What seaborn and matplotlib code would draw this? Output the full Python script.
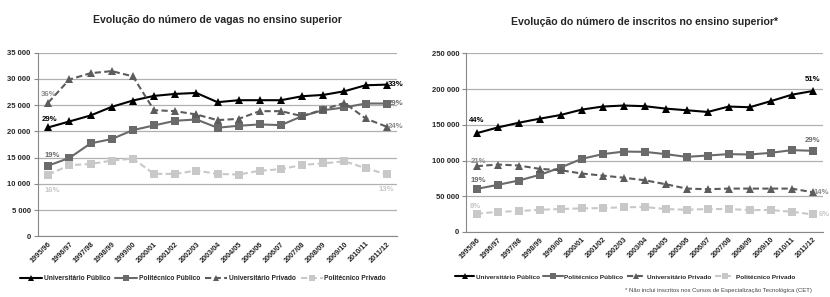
import matplotlib
matplotlib.use("Agg")
import matplotlib.pyplot as plt
import pandas as pd
import seaborn as sns

anos = ['1995/96', '1996/97', '1997/98', '1998/99', '1999/00', '2000/01', '2001/02',
        '2002/03', '2003/04', '2004/05', '2005/06', '2006/07', '2007/08', '2008/09',
        '2009/10', '2010/11', '2011/12']

series = ['Universitário Público', 'Politécnico Público', 'Universitário Privado', 'Politécnico Privado']

# vagas
vagas_univ_pub = [20760, 21900, 23040, 24680, 25890, 26770, 27150, 27340, 25570, 25950,
                  25950, 25950, 26710, 26960, 27660, 28800, 28920]
vagas_poli_pub = [13480, 14940, 17720, 18540, 20250, 21140, 22030, 22280, 20700, 21080,
                  21330, 21200, 22910, 24050, 24560, 25320, 25320]
vagas_univ_priv = [25500, 29900, 31100, 31500, 30500, 24050, 23860, 23230, 22150, 22400,
                   23860, 23860, 22910, 24180, 25440, 22470, 20890]
vagas_poli_priv = [11770, 13540, 13800, 14430, 14810, 11900, 11900, 12530, 11900, 11770,
                   12500, 12800, 13610, 13900, 14300, 13000, 11800]

# inscritos
insc_univ_pub = [138200, 146200, 152800, 158500, 163700, 171200, 175500, 176900, 176000,
                 172600, 170300, 167900, 175500, 174500, 183000, 192000, 197200]
insc_poli_pub = [60300, 65900, 72000, 79900, 90200, 102300, 108900, 112500, 112100, 108900,
                 105100, 107000, 108900, 108400, 110700, 114500, 113600]
insc_univ_priv = [92000, 94400, 93000, 88300, 86400, 81800, 78900, 75900, 72400, 66800,
                  60700, 59800, 60700, 60700, 60700, 60700, 55600]
insc_poli_priv = [25500, 28300, 29200, 31100, 32100, 33000, 33500, 34600, 34900, 32100,
                  31100, 32100, 32100, 30700, 30700, 28300, 24500]

# percentagens (primeiro e ultimo ano)
vagas_pct = {'Universitário Público': ('29%', '33%'), 'Politécnico Público': ('19%', '29%'),
             'Universitário Privado': ('36%', '24%'), 'Politécnico Privado': ('16%', '13%')}
insc_pct = {'Universitário Público': ('44%', '51%'), 'Politécnico Público': ('19%', '29%'),
            'Universitário Privado': ('21%', '14%'), 'Politécnico Privado': ('8%', '6%')}

cores = {'Universitário Público': '#000000', 'Politécnico Público': '#6a6a6a',
         'Universitário Privado': '#5c5c5c', 'Politécnico Privado': '#c8c8c8'}
cores_txt = {'Universitário Público': '#000000', 'Politécnico Público': '#6a6a6a',
             'Universitário Privado': '#8a8a8a', 'Politécnico Privado': '#c8c8c8'}
markers = {'Universitário Público': '^', 'Politécnico Público': 's',
           'Universitário Privado': '^', 'Politécnico Privado': 's'}
dashes = {'Universitário Público': '', 'Politécnico Público': '',
          'Universitário Privado': (3, 1.6), 'Politécnico Privado': (3, 1.6)}

sns.set_theme(style="white")
plt.rcParams['font.family'] = ['Liberation Sans', 'DejaVu Sans']
plt.rcParams['font.weight'] = 'bold'


def long_df(vals):
    rows = []
    for s, v in zip(series, vals):
        for a, y in zip(anos, v):
            rows.append({'ano': a, 'serie': s, 'valor': y})
    return pd.DataFrame(rows)


def draw(ax, df, pct, ymax, step, title, labels_pos):
    sns.lineplot(data=df, x='ano', y='valor', hue='serie', style='serie', hue_order=series,
                 style_order=series, palette=cores, markers=markers, dashes=dashes,
                 markersize=6, linewidth=1.5, markeredgewidth=0, sort=False, ax=ax,
                 legend=True)
    ax.set_xlim(-0.5, len(anos) - 0.5)
    ax.set_ylim(0, ymax)
    ax.set_yticks(range(0, ymax + 1, step))
    ax.set_yticklabels([f'{t:,}'.replace(',', ' ') for t in range(0, ymax + 1, step)],
                       fontsize=5.5, fontweight='bold')
    ax.set_xticks(range(len(anos)))
    ax.set_xticklabels(anos, rotation=45, ha='right', rotation_mode='anchor',
                       fontsize=5.3, fontweight='bold')
    ax.set_xticks([i - 0.5 for i in range(len(anos) + 1)], minor=True)
    ax.tick_params(axis='x', which='major', length=0, pad=3)
    ax.tick_params(axis='x', which='minor', length=3, width=0.8, color='#888888')
    ax.tick_params(axis='y', length=3, width=0.8, color='#888888', pad=2, left=True)
    ax.grid(axis='y', color='#b0b0b0', linewidth=0.9)
    ax.set_axisbelow(True)
    for sp in ['top', 'right']:
        ax.spines[sp].set_visible(False)
    for sp in ['left', 'bottom']:
        ax.spines[sp].set_color('#888888')
        ax.spines[sp].set_linewidth(0.8)
    ax.set_xlabel('')
    ax.set_ylabel('')
    ax.set_title(title, fontsize=7.6, fontweight='bold', pad=0, y=1.16)
    for s in series:
        v = df[df['serie'] == s]['valor'].tolist()
        (dx0, dy0, ha0), (dx1, dy1, ha1) = labels_pos[s]
        ax.annotate(pct[s][0], (0, v[0]), xytext=(dx0, dy0), textcoords='offset points',
                    ha=ha0, va='center', fontsize=5.6, fontweight='bold', color=cores_txt[s])
        ax.annotate(pct[s][1], (len(anos) - 1, v[-1]), xytext=(dx1, dy1),
                    textcoords='offset points', ha=ha1, va='center', fontsize=5.6,
                    fontweight='bold', color=cores_txt[s])
    ax.get_legend().remove()


fig = plt.figure(figsize=(8.3, 2.97), dpi=100)
ax1 = fig.add_axes([0.0454, 0.2044, 0.4333, 0.618])
ax2 = fig.add_axes([0.5617, 0.2189, 0.4301, 0.6017])

pos1 = {'Universitário Público': ((1, 5.5, 'center'), (0.5, 0, 'left')),
        'Politécnico Público': ((3, 7.5, 'center'), (0.5, 0, 'left')),
        'Universitário Privado': ((0, 6, 'center'), (0.5, 0, 'left')),
        'Politécnico Privado': ((3, -11.5, 'center'), (0, -11, 'center'))}
pos2 = {'Universitário Público': ((0, 9.5, 'center'), (0, 8, 'center')),
        'Politécnico Público': ((1, 6, 'center'), (0, 7.5, 'center')),
        'Universitário Privado': ((1, 3.5, 'center'), (0.5, 0, 'left')),
        'Politécnico Privado': ((-1, 5.5, 'center'), (4, 0, 'left'))}

draw(ax1, long_df([vagas_univ_pub, vagas_poli_pub, vagas_univ_priv, vagas_poli_priv]),
     vagas_pct, 35000, 5000, 'Evolução do número de vagas no ensino superior', pos1)
draw(ax2, long_df([insc_univ_pub, insc_poli_pub, insc_univ_priv, insc_poli_priv]),
     insc_pct, 250000, 50000, 'Evolução do número de inscritos no ensino superior*', pos2)

handles, labels = ax1.get_legend_handles_labels()
for h in handles:
    h.set_markersize(4.5)
fig.legend(handles, series, loc='center', bbox_to_anchor=(0.2446, 0.061), ncol=4,
           frameon=False, handlelength=3.3, handletextpad=0.2,
           columnspacing=0.8, prop={'weight': 'bold', 'size': 4.8})
fig.legend(handles, series, loc='center', bbox_to_anchor=(0.753, 0.068), ncol=4,
           frameon=False, handlelength=3.0, handletextpad=0.2,
           columnspacing=0.6, prop={'weight': 'bold', 'size': 4.6})

fig.text(0.753, 0.022, '* Não inclui inscritos nos Cursos de Especialização Tecnológica (CET)',
         fontsize=4.3, fontweight='normal', color='#444444', ha='left', va='center')

fig.savefig('out.png', dpi=100)
